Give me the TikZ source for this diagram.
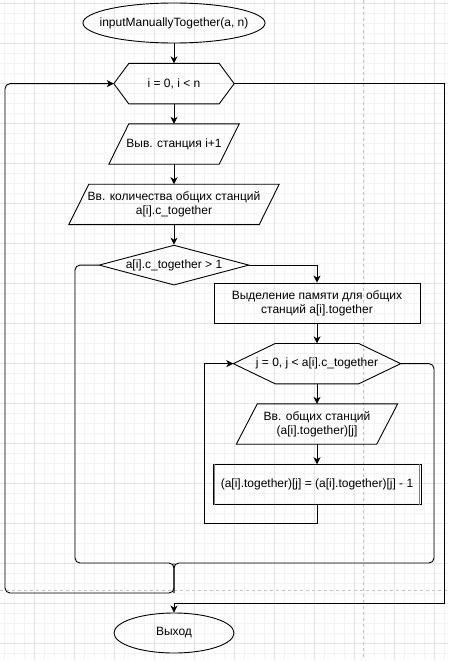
\documentclass[tikz,border=0pt]{standalone}
\usepackage{fontspec}
\setmainfont{Liberation Sans}
\usetikzlibrary{shapes.geometric, arrows.meta, positioning}
\definecolor{gridminor}{HTML}{F3F3F3}
\definecolor{gridmajor}{HTML}{E4E4E4}
\definecolor{pagebreak}{HTML}{C4C4C4}
% outlines of the loop (hexagon) and input/output (parallelogram) blocks
\newcommand{\hexaline}[2]{\draw[outline] (#1.west) -- ([xshift=#2]#1.north west) -- ([xshift=-#2]#1.north east) -- (#1.east) -- ([xshift=-#2]#1.south east) -- ([xshift=#2]#1.south west) -- cycle;}
\newcommand{\ioline}[2]{\draw[outline] (#1.south west) -- ([xshift=#2]#1.north west) -- (#1.north east) -- ([xshift=-#2]#1.south east) -- cycle;}

\begin{document}
\begin{tikzpicture}[x=1pt, y=-1pt, node distance=20pt,
    every node/.style={font=\fontsize{12}{14}\selectfont, align=center},
    outline/.style={line width=0.9pt, line join=miter},
    terminal/.style={ellipse, draw, outline, minimum width=120pt, minimum height=40pt, inner sep=0pt},
    block/.style={rectangle, minimum height=40pt, inner sep=0pt},
    procbox/.style={rectangle, draw, outline, minimum height=40pt},
    decision/.style={diamond, draw, outline, aspect=3.75, minimum width=150pt, minimum height=40pt, inner sep=0pt},
    flow/.style={-{Stealth[length=7pt, width=7pt, inset=2pt]}, line width=0.9pt},
    link/.style={line width=0.9pt, rounded corners=5pt}]
    \useasboundingbox (0,0) rectangle (448,661);
    \fill[white] (0,0) rectangle (448,661);

    % Page grid
    \begin{scope}
        \clip (0,0) rectangle (448,658);
        \draw[gridminor, step=10pt, shift={(4,3)}] (-10,-10) grid (450,660);
        \draw[gridmajor, step=40pt, shift={(34,3)}] (-40,-40) grid (450,700);
        \draw[pagebreak, dash pattern=on 3pt off 3pt] (363,0) -- (363,658);
        \draw[pagebreak, dash pattern=on 3pt off 3pt] (0,590) -- (448,590);
    \end{scope}

    % Define nodes
    \node (start) [terminal, minimum width=180pt, inner xsep=-10pt] at (174,23) {inputManuallyTogether(a, n)};
    \node (cycle1) [block, minimum width=120pt, below=of start] {i = 0, i < n};
    \node (out) [block, minimum width=130pt, below=of cycle1] {Выв. станция i+1};
    \node (count) [block, minimum width=210pt, below=of out] {Вв. количества общих станций\\a[i].c\_together};
    \node (check) [decision, below=of count] {a[i].c\_together > 1};
    \node (alloc) [procbox, minimum width=206pt] at (317,303) {Выделение памяти для общих\\станций a[i].together};
    \node (cycle2) [block, minimum width=167pt, below=of alloc] {j = 0, j < a[i].c\_together};
    \node (read) [block, minimum width=161pt, below=of cycle2] {Вв. общих станций\\(a[i].together)[j]};
    \node (dec) [procbox, minimum width=208pt, below=of read] {(a[i].together)[j] = (a[i].together)[j] - 1};
    \node (finish) [terminal] at (174,633) {Выход};

    % Block outlines
    \hexaline{cycle1}{15pt}
    \hexaline{cycle2}{42pt}
    \ioline{out}{20pt}
    \ioline{count}{20pt}
    \ioline{read}{21pt}
    \draw[gray, line width=0.8pt] ([xshift=2pt]dec.north west) -- ([xshift=2pt]dec.south west);
    \draw[gray, line width=0.8pt] ([xshift=-2pt]dec.north east) -- ([xshift=-2pt]dec.south east);

    % Draw arrows
    \draw[flow] (start) -- (cycle1);
    \draw[flow] (cycle1) -- (out);
    \draw[flow] (out) -- (count);
    \draw[flow] (count) -- (check);
    \draw[flow] (check.east) -| (alloc);
    \draw[flow] (alloc) -- (cycle2);
    \draw[flow] (cycle2) -- (read);
    \draw[flow] (read) -- (dec);

    % Loops
    \coordinate (back2) at (204,523);
    \draw[flow] (dec.south) |- (back2) |- (cycle2.west);
    \coordinate (join) at (174,563);
    \coordinate (joinb) at (174,593);
    \coordinate (exitr) at (434,563);
    \coordinate (exitl) at (75,563);
    \draw[link] (cycle2.east) -| (exitr) -- (join) -- (joinb);
    \draw[link] (check.west) -| (exitl) -- (join) -- (joinb);
    \coordinate (back1) at (5,593);
    \draw[flow, link] (join) -- (joinb) -- (back1) |- (cycle1.west);
    \coordinate (done) at (444,603);
    \draw[flow] (cycle1.east) -| (done) -| (finish);
\end{tikzpicture}
\end{document}
